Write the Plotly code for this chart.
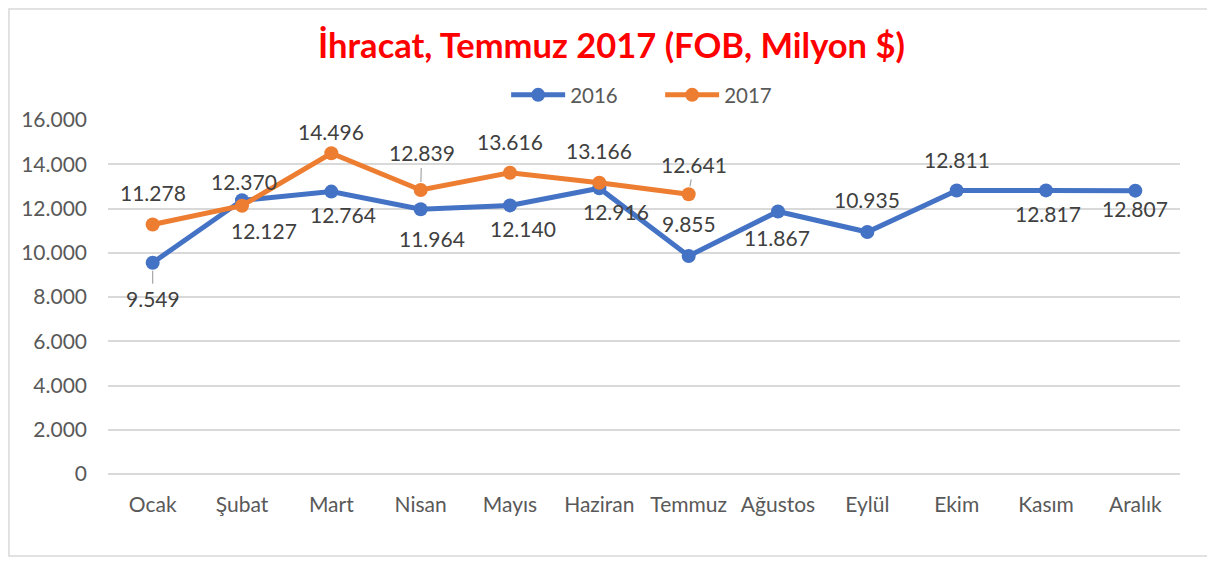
import plotly.graph_objects as go

months = ["Ocak", "Şubat", "Mart", "Nisan", "Mayıs", "Haziran", "Temmuz",
          "Ağustos", "Eylül", "Ekim", "Kasım", "Aralık"]
y2016 = [9549, 12370, 12764, 11964, 12140, 12916, 9855, 11867, 10935, 12811, 12817, 12807]
y2017 = [11278, 12127, 14496, 12839, 13616, 13166, 12641]

# label pixel offsets (ax, ay) and whether a leader line is drawn
off2016 = [(0, 36, True), (2, -19, False), (12, 23, False), (11, 29, False), (13, 23, False),
           (17, 23, False), (0, -32, False), (-1, 26, False), (0, -33, False), (0, -31, False),
           (2, 23, False), (0, 18, False)]
off2017 = [(0, -32, False), (22, 25, False), (0, -22, False), (1, -37, True), (0, -31, False),
           (0, -32, False), (5, -30, True)]

BLUE = "#4472C4"
ORANGE = "#ED7D31"
FONT = "Lato"
GRAY = "#595959"

def fmt(v):
    return f"{v:,}".replace(",", ".")

fig = go.Figure()
fig.add_trace(go.Scatter(x=months, y=y2016, name="2016", mode="lines+markers",
                         line=dict(color=BLUE, width=5), marker=dict(size=14, color=BLUE)))
fig.add_trace(go.Scatter(x=months[:len(y2017)], y=y2017, name="2017", mode="lines+markers",
                         line=dict(color=ORANGE, width=5), marker=dict(size=14, color=ORANGE)))

annotations = []
for xs, ys, offs in ((months, y2016, off2016), (months, y2017, off2017)):
    for m, v, (ax, ay, lead) in zip(xs, ys, offs):
        annotations.append(dict(
            x=m, y=v, xref="x", yref="y", text=fmt(v), showarrow=True,
            ax=ax, ay=ay, axref="pixel", ayref="pixel",
            arrowhead=0, arrowwidth=1.2, standoff=8, startstandoff=1,
            arrowcolor="#A6A6A6" if lead else "rgba(0,0,0,0)",
            font=dict(family=FONT, size=21, color="#404040")))

fig.update_layout(
    width=1207, height=555,
    margin=dict(l=100, r=35, t=112, b=89),
    paper_bgcolor="white", plot_bgcolor="white",
    separators=",.",
    title=dict(text="<b>İhracat, Temmuz 2017 (FOB, Milyon $)</b>", x=0.5, xanchor="center",
               y=0.9315, yanchor="middle",
               font=dict(family=FONT, size=34.5, color="#FF0000")),
    legend=dict(orientation="h", x=0.3714, xanchor="left", y=1.0706, yanchor="middle",
                font=dict(family=FONT, size=20.5, color=GRAY), itemwidth=54,
                entrywidth=85, entrywidthmode="pixels",
                bgcolor="rgba(0,0,0,0)"),
    annotations=annotations,
    showlegend=True,
    shapes=[dict(type="rect", xref="paper", yref="paper", x0=-0.0924, x1=1.028,
                 y0=-0.2316, y1=1.3136, line=dict(color="#D9D9D9", width=1.5),
                 fillcolor="rgba(0,0,0,0)", layer="below")],
)
fig.update_xaxes(type="category", showgrid=False, showline=False, ticks="",
                 tickfont=dict(family=FONT, size=21, color=GRAY), ticklabelstandoff=16,
                 range=[-0.5, 11.5])
fig.update_yaxes(range=[0, 16000], dtick=2000, tickformat=",d", showgrid=True,
                 gridcolor="#D9D9D9", gridwidth=1.5, zeroline=True, zerolinecolor="#D9D9D9",
                 zerolinewidth=1.5, showline=False, ticks="",
                 tickfont=dict(family=FONT, size=21, color=GRAY), ticklabelstandoff=20)

fig.write_html("out.html")
